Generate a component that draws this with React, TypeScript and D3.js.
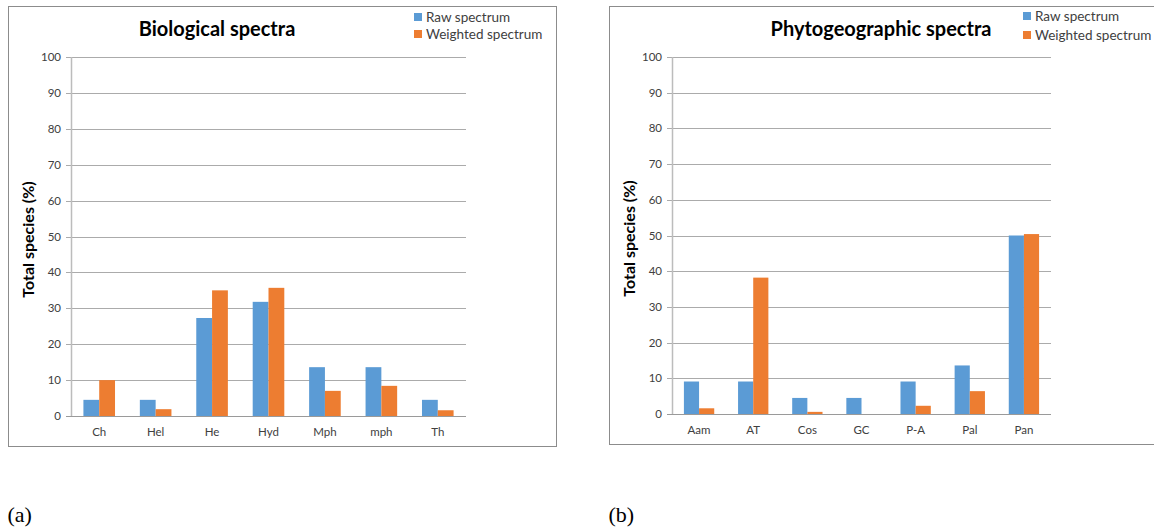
import React from 'react'
import { scaleBand, scaleLinear } from 'd3'

const bioCategories = ['Ch', 'Hel', 'He', 'Hyd', 'Mph', 'mph', 'Th']
const bioRaw = [4.5, 4.5, 27.3, 31.8, 13.6, 13.6, 4.5]
const bioWeighted = [10, 1.9, 35, 35.7, 7, 8.4, 1.6]

const phytoCategories = ['Aam', 'AT', 'Cos', 'GC', 'P-A', 'Pal', 'Pan']
const phytoRaw = [9.1, 9.1, 4.5, 4.5, 9.1, 13.6, 50]
const phytoWeighted = [1.6, 38.2, 0.6, 0, 2.3, 6.4, 50.4]

const yTicks = [0, 10, 20, 30, 40, 50, 60, 70, 80, 90, 100]
const seriesNames = ['Raw spectrum', 'Weighted spectrum']

const BLUE = '#5B9BD5'
const ORANGE = '#ED7D31'
const FONT = 'Lato, "Open Sans", sans-serif'

function Panel({ frame, plot, title, titleX, legendX, legendY, categories, raw, weighted, tag }) {
  const x = scaleBand().domain(categories).range([plot.left, plot.right])
  const y = scaleLinear().domain([0, 100]).range([plot.bottom, plot.top])
  const barW = x.bandwidth() * 0.28

  return (
    <g>
      <rect
        x={frame.left}
        y={frame.top}
        width={frame.right - frame.left}
        height={frame.bottom - frame.top}
        fill="#fff"
        stroke="#8c8c8c"
        strokeWidth={1}
      />
      {yTicks.map(t => (
        <g key={t}>
          <line
            x1={plot.left - 5}
            x2={plot.right}
            y1={Math.round(y(t)) + 0.5}
            y2={Math.round(y(t)) + 0.5}
            stroke={t === 0 ? '#9a9a9a' : '#ababab'}
            strokeWidth={1}
          />
          <text
            x={plot.left - 10}
            y={y(t)}
            dy="0.35em"
            textAnchor="end"
            fontSize={11.5}
            fontFamily={FONT}
            fill="#404040"
          >
            {t}
          </text>
        </g>
      ))}
      <line
        x1={plot.left + 0.5}
        x2={plot.left + 0.5}
        y1={plot.top}
        y2={plot.bottom}
        stroke="#bcbcbc"
        strokeWidth={1.5}
      />
      {categories.map((c, i) => {
        const cx = x(c) + x.bandwidth() / 2
        return (
          <g key={c}>
            <rect x={cx - barW} y={y(raw[i])} width={barW} height={y(0) - y(raw[i])} fill={BLUE} />
            {weighted[i] > 0 && (
              <rect x={cx} y={y(weighted[i])} width={barW} height={y(0) - y(weighted[i])} fill={ORANGE} />
            )}
            <text
              x={cx}
              y={plot.bottom + 20}
              textAnchor="middle"
              fontSize={11.5}
              fontFamily={FONT}
              fill="#404040"
            >
              {c}
            </text>
          </g>
        )
      })}
      <text
        transform={`translate(${frame.left + 20},${(plot.top + plot.bottom) / 2 + 3}) rotate(-90)`}
        textAnchor="middle"
        dy="0.35em"
        fontSize={16}
        fontWeight="bold"
        fontFamily={FONT}
        fill="#000"
      >
        Total species (%)
      </text>
      <text
        x={titleX}
        y={36}
        textAnchor="middle"
        fontSize={20}
        fontWeight="bold"
        fontFamily={FONT}
        fill="#000"
      >
        {title}
      </text>
      {seriesNames.map((s, i) => (
        <g key={s} transform={`translate(${legendX},${legendY[i]})`}>
          <rect x={0} y={-4} width={8} height={8} fill={i === 0 ? BLUE : ORANGE} />
          <text x={12} y={0} dy="0.35em" fontSize={13.5} fontFamily={FONT} fill="#404040">
            {s}
          </text>
        </g>
      ))}
      <text x={frame.left - 1} y={522} fontSize={22} fontFamily='"Liberation Serif", serif' fill="#000">
        {tag}
      </text>
    </g>
  )
}

export default function App() {
  return (
    <svg
      width={1154}
      height={529}
      style={{ position: 'absolute', left: 0, top: 0, background: '#fff' }}
    >
      <rect width={1154} height={529} fill="#fff" />
      <Panel
        frame={{ left: 8.5, right: 556.5, top: 6.5, bottom: 446.5 }}
        plot={{ left: 71, right: 466, top: 57, bottom: 416 }}
        title="Biological spectra"
        titleX={217}
        legendX={414}
        legendY={[17, 34]}
        categories={bioCategories}
        raw={bioRaw}
        weighted={bioWeighted}
        tag="(a)"
      />
      <Panel
        frame={{ left: 609.5, right: 1160, top: 6.5, bottom: 444.5 }}
        plot={{ left: 672, right: 1051, top: 57, bottom: 414 }}
        title="Phytogeographic spectra"
        titleX={881}
        legendX={1023}
        legendY={[16, 35]}
        categories={phytoCategories}
        raw={phytoRaw}
        weighted={phytoWeighted}
        tag="(b)"
      />
    </svg>
  )
}
